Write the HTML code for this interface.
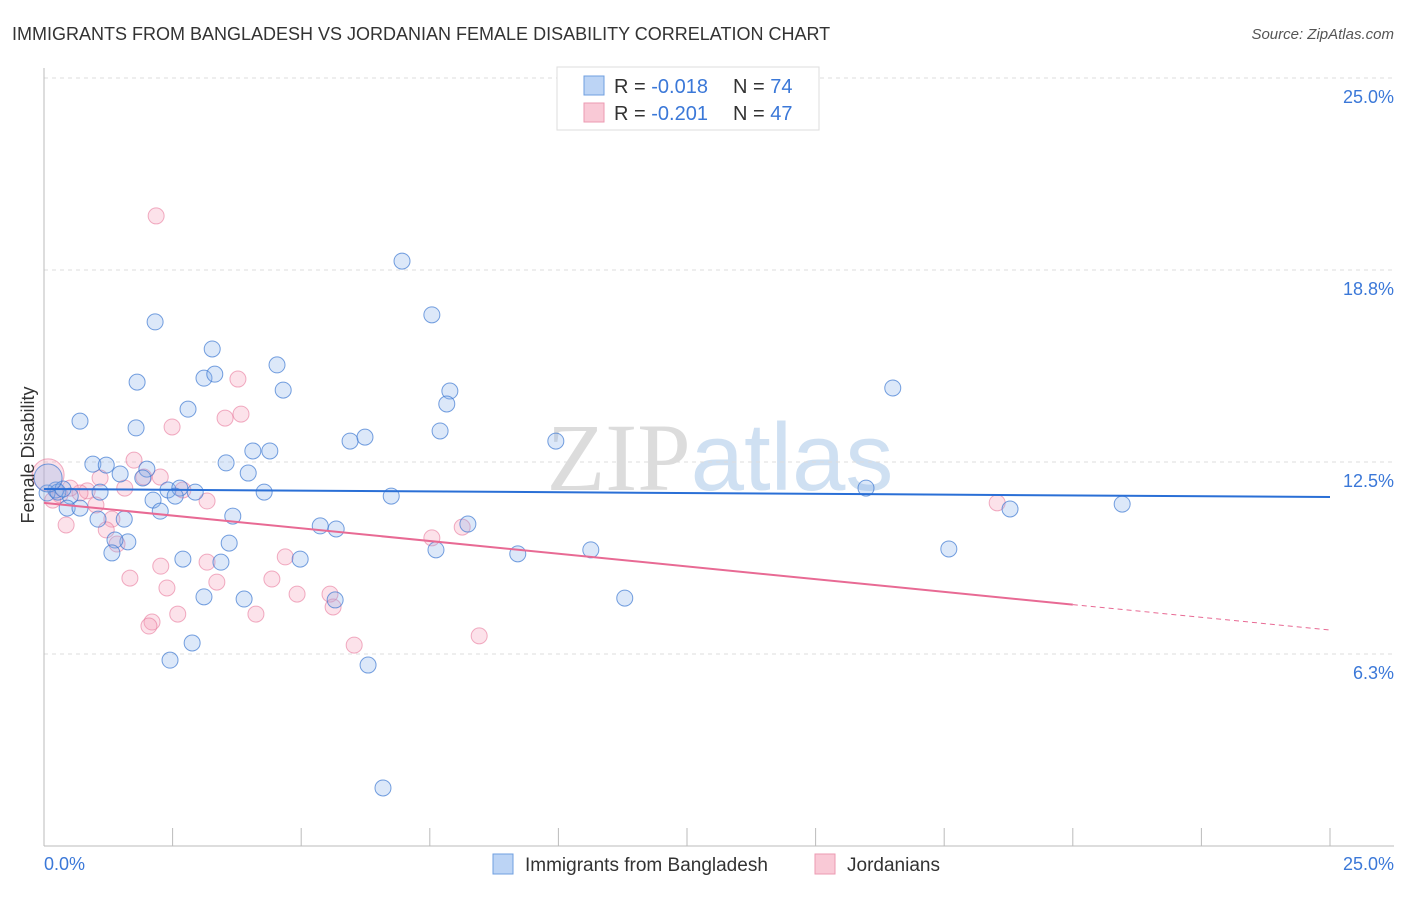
<!DOCTYPE html>
<html><head><meta charset="utf-8"><style>
body{margin:0;background:#fff;font-family:"Liberation Sans",sans-serif;}
svg text{font-family:"Liberation Sans",sans-serif;}
</style></head><body>
<svg id="chart" width="1406" height="892" xmlns="http://www.w3.org/2000/svg">
<text x="12" y="40" font-size="18" fill="#333">IMMIGRANTS FROM BANGLADESH VS JORDANIAN FEMALE DISABILITY CORRELATION CHART</text>
<text x="1394" y="39" font-size="15" fill="#555" text-anchor="end" font-style="italic">Source: ZipAtlas.com</text>
<text x="720" y="490" font-size="96" text-anchor="middle" fill="#e3e6ea"><tspan font-family="Liberation Serif" fill="#dcdcdc">ZIP</tspan><tspan fill="#cfe0f2">atlas</tspan></text>
<g id="grid"></g>
<g id="axes"></g>
<g id="pts"></g>
<g id="trends"></g>
<text transform="translate(34,455) rotate(-90)" font-size="18" fill="#333" text-anchor="middle">Female Disability</text>
<text x="44" y="870" font-size="18" fill="#3b78d8">0.0%</text>
<text x="1394" y="870" font-size="18" fill="#3b78d8" text-anchor="end">25.0%</text>
<g>
<rect x="557" y="67" width="262" height="63" fill="#fff" stroke="#ddd"/>
<rect x="584" y="76" width="20" height="19" fill="#bcd4f5" stroke="#6f9fe0"/>
<rect x="584" y="103" width="20" height="19" fill="#f9c9d6" stroke="#ec9ab2"/>
<text x="614" y="93" font-size="20" fill="#333">R = <tspan fill="#3b78d8">-0.018</tspan></text>
<text x="733" y="93" font-size="20" fill="#333">N = <tspan fill="#3b78d8">74</tspan></text>
<text x="614" y="120" font-size="20" fill="#333">R = <tspan fill="#3b78d8">-0.201</tspan></text>
<text x="733" y="120" font-size="20" fill="#333">N = <tspan fill="#3b78d8">47</tspan></text>
</g>
<g>
<rect x="493" y="854" width="20" height="20" fill="#bcd4f5" stroke="#6f9fe0"/>
<text x="525" y="871" font-size="19" fill="#333">Immigrants from Bangladesh</text>
<rect x="815" y="854" width="20" height="20" fill="#f9c9d6" stroke="#ec9ab2"/>
<text x="847" y="871" font-size="19" fill="#333">Jordanians</text>
</g>
</svg>
<script>
const yTicks=[6.25,12.5,18.75,25];
const yTickLabels=["6.3%","12.5%","18.8%","25.0%"];
const blueX=[6.96,7.54,2.16,3.27,4.53,1.81,3.11,3.32,4.65,7.89,16.50,2.80,0.70,7.83,1.79,7.70,5.95,6.24,9.95,4.06,4.39,3.54,0.95,1.21,2.00,1.48,3.97,1.92,0.23,0.51,1.09,2.41,2.64,2.94,4.28,6.75,2.12,15.98,2.55,0.45,0.70,2.26,3.67,1.05,1.56,18.78,20.96,5.37,5.68,8.24,1.63,1.38,3.60,1.32,2.70,4.98,7.62,9.21,10.63,17.59,3.44,3.11,3.89,5.66,11.29,2.88,2.45,6.30,6.59,0.06,0.27,0.37,0.08];
const blueY=[19.04,17.29,17.06,16.18,15.66,15.10,15.23,15.36,14.84,14.81,14.91,14.22,13.83,14.39,13.61,13.51,13.18,13.31,13.18,12.86,12.86,12.47,12.43,12.40,12.27,12.11,12.14,11.98,11.59,11.39,11.52,11.59,11.65,11.52,11.52,11.39,11.26,11.65,11.39,11.00,11.00,10.90,10.74,10.64,10.64,10.97,11.13,10.42,10.32,10.48,9.90,9.96,9.86,9.54,9.34,9.34,9.64,9.51,9.64,9.67,9.24,8.11,8.04,8.01,8.07,6.61,6.05,5.89,1.89,11.49,11.52,11.62,11.98];
const pinkX=[2.18,3.77,3.83,3.52,2.49,1.75,1.94,2.26,1.09,1.57,2.70,0.84,0.31,0.70,0.17,3.17,1.32,1.21,0.43,1.42,8.13,7.54,18.53,4.69,2.27,3.17,3.36,4.43,1.67,2.39,4.92,5.56,5.62,2.60,2.10,2.04,4.12,6.03,8.46,1.01,0.51,0.08];
const pinkY=[20.51,15.20,14.06,13.93,13.64,12.56,12.01,12.01,11.98,11.65,11.59,11.56,11.43,11.49,11.26,11.23,10.64,10.29,10.45,9.83,10.38,10.03,11.17,9.41,9.11,9.24,8.59,8.69,8.72,8.40,8.20,8.20,7.78,7.55,7.29,7.16,7.55,6.54,6.84,11.10,11.65,12.08];
const blueTrend=[11.62,11.36];
const pinkTrend=[11.17,7.03];
const pinkSolidEnd=20;
const X0=44,X1=1330,Y0=846,Y1=78;
const sx=v=>X0+v/25*(X1-X0), sy=v=>Y0-v/25*(Y0-Y1);
const NS="http://www.w3.org/2000/svg";
function mk(t,a,p){const e=document.createElementNS(NS,t);for(const k in a)e.setAttribute(k,a[k]);p.appendChild(e);return e;}
const grid=document.getElementById('grid');
yTicks.forEach((t,i)=>{
  const l=mk('line',{x1:X0,x2:1394,y1:sy(t),y2:sy(t),stroke:'#ddd','stroke-dasharray':'4,4'},grid);
  
  
  const tx=mk('text',{x:1394,y:sy(t)+25,'font-size':18,fill:'#3b78d8','text-anchor':'end'},grid);
  tx.textContent=yTickLabels[i];
  
  
});
const axes=document.getElementById('axes');
const xa=mk('line',{x1:X0,x2:1394,y1:Y0,y2:Y0,stroke:'#bbb'},axes);


const ya=mk('line',{x1:X0,x2:X0,y1:68,y2:Y0,stroke:'#bbb'},axes);


for(let i=0;i<=10;i++){const v=i*2.5;const t=mk('line',{x1:sx(v),x2:sx(v),y1:Y0,y2:Y0-18,stroke:'#bbb'},axes);
  
  }
const pts=document.getElementById('pts');
pinkX.forEach((v,i)=>{const r=i===pinkX.length-1?16:8;
  const c=mk('circle',{cx:sx(v),cy:sy(pinkY[i]),r:r,fill:'rgba(244,160,186,0.3)',stroke:'rgba(232,120,155,0.6)','stroke-width':1},pts);
  
  });
blueX.forEach((v,i)=>{const r=i===blueX.length-1?14:8;
  const c=mk('circle',{cx:sx(v),cy:sy(blueY[i]),r:r,fill:'rgba(140,180,235,0.3)',stroke:'rgba(60,120,210,0.7)','stroke-width':1},pts);
  
  });
const tr=document.getElementById('trends');
const bl=mk('line',{x1:sx(0),y1:sy(blueTrend[0]),x2:sx(25),y2:sy(blueTrend[1]),stroke:'#2a6fd6','stroke-width':2},tr);


const pe=pinkTrend[0]+(pinkTrend[1]-pinkTrend[0])*pinkSolidEnd/25;
const pl=mk('line',{x1:sx(0),y1:sy(pinkTrend[0]),x2:sx(pinkSolidEnd),y2:sy(pe),stroke:'#e86a94','stroke-width':2},tr);


const pd=mk('line',{x1:sx(pinkSolidEnd),y1:sy(pe),x2:sx(25),y2:sy(pinkTrend[1]),stroke:'#e86a94','stroke-width':1,'stroke-dasharray':'5,4'},tr);


</script>
</body></html>
